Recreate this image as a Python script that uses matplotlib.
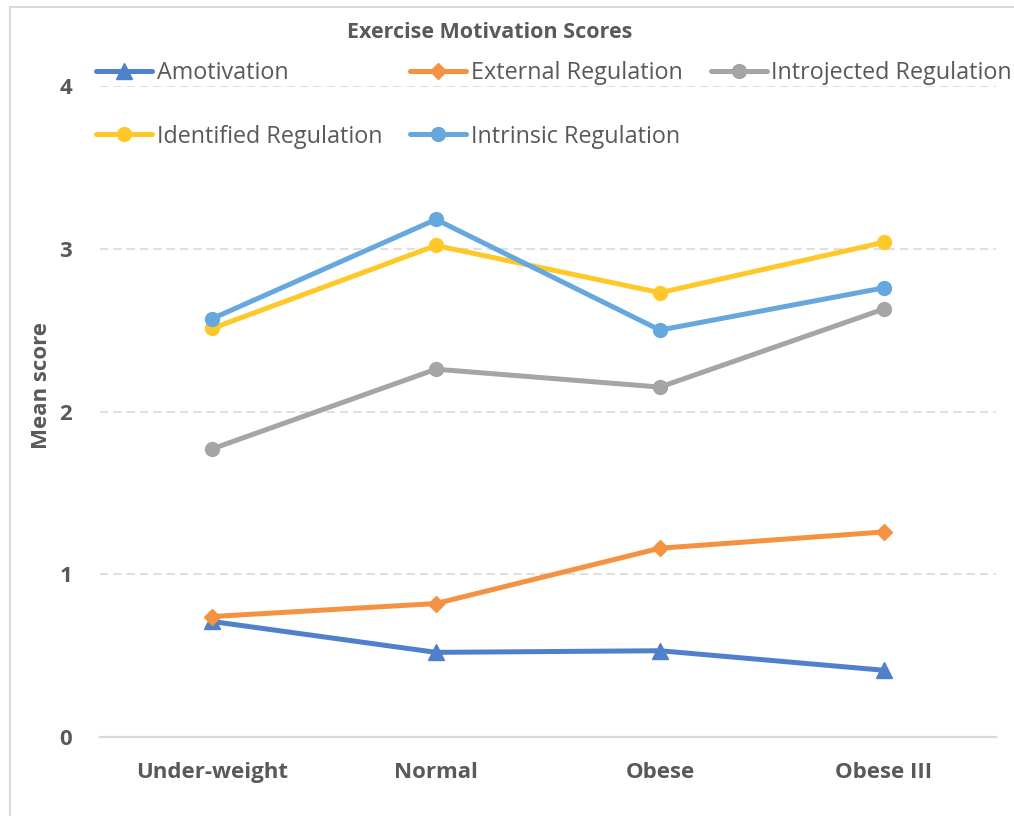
import matplotlib
matplotlib.use("Agg")
import matplotlib.pyplot as plt
from matplotlib.patches import Rectangle

categories = ["Under-weight", "Normal", "Obese", "Obese III"]
amotivation = [0.71, 0.52, 0.53, 0.41]
external = [0.74, 0.82, 1.16, 1.26]
introjected = [1.77, 2.26, 2.15, 2.63]
identified = [2.51, 3.02, 2.73, 3.04]
intrinsic = [2.57, 3.18, 2.50, 2.76]
series_names = ["Amotivation", "External Regulation", "Introjected Regulation",
                "Identified Regulation", "Intrinsic Regulation"]
yticks = [0, 1, 2, 3, 4]

plt.rcParams['font.family'] = ['Open Sans', 'DejaVu Sans']
TXT = '#595959'
GRID = '#D9D9D9'

W, H = 1014, 816
fig = plt.figure(figsize=(W/100, H/100), dpi=100)
fig.patches.append(Rectangle((10/W, -0.1), 1.2, 1 - 7/H + 0.1, transform=fig.transFigure,
                             fill=False, edgecolor=GRID, linewidth=1.5))

ax = fig.add_axes([100/W, (H-737)/H, 896/W, (737-86)/H])
x = list(range(len(categories)))

styles = [
    (amotivation, '#4F80CC', '^', 12),
    (external, '#F59241', 'D', 8.5),
    (introjected, '#A5A5A5', 'o', 10),
    (identified, '#FFC829', 'o', 10),
    (intrinsic, '#66A8DD', 'o', 10),
]
handles = []
for i, ((vals, col, mk, ms), name) in enumerate(zip(styles, series_names)):
    h, = ax.plot(x, vals, color=col, marker=mk, markersize=ms, linewidth=3.6,
                 label=name, zorder=3 + i, solid_capstyle='round')
    handles.append(h)

ax.set_xlim(-0.5, 3.5)
ax.set_ylim(0, 4)
ax.set_yticks(yticks)
ax.set_yticklabels([str(t) for t in yticks])
ax.set_xticks(x)
ax.set_xticklabels(categories)
for s in ['top', 'right', 'left']:
    ax.spines[s].set_visible(False)
ax.spines['bottom'].set_color(GRID)
ax.spines['bottom'].set_linewidth(1.6)
ax.tick_params(axis='both', length=0, colors=TXT, labelsize=16)
ax.tick_params(axis='y', pad=20)
ax.tick_params(axis='x', pad=18)
for lab in ax.get_xticklabels() + ax.get_yticklabels():
    lab.set_fontweight('bold')
for t in yticks[1:]:
    ax.axhline(t, color=GRID, linewidth=1.2, linestyle=(0, (5, 3)), zorder=1)
ax.set_ylabel("Mean score", fontsize=16, fontweight='bold', color=TXT)
ax.yaxis.set_label_coords(-48/896, 0.54)

fig.text(490/W, 1 - 33/H, "Exercise Motivation Scores", ha='center', va='center',
         fontsize=15.5, fontweight='bold', color=TXT)

order = [0, 3, 1, 4, 2]
leg = fig.legend([handles[i] for i in order], [series_names[i] for i in order],
                 ncol=3, loc='upper left', bbox_to_anchor=(96/W, 1 - 61/H),
                 frameon=False, fontsize=16.8, handlelength=2.4, handletextpad=0.2,
                 columnspacing=1.2, labelspacing=1.7, borderaxespad=0, borderpad=0)
for t in leg.get_texts():
    t.set_color(TXT)

fig.savefig("out.png", dpi=100)
